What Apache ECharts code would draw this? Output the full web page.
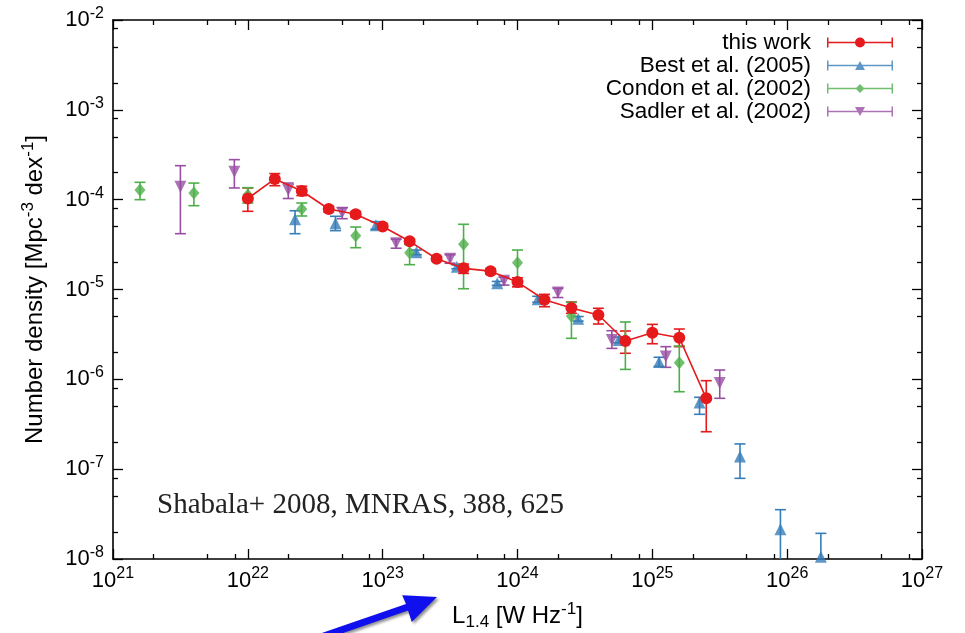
<!DOCTYPE html>
<html>
<head>
<meta charset="utf-8">
<script src="https://cdn.jsdelivr.net/npm/echarts@6/dist/echarts.min.js"></script>
<style>
html, body { margin: 0; padding: 0; background: #fff; }
#chart { width: 965px; height: 633px; }
</style>
</head>
<body>
<div id="chart"></div>
<script>
// radio luminosity function, L_1.4 in W/Hz, number density in Mpc^-3 dex^-1

// this work
const workL  = [1.0e22, 1.585e22, 2.512e22, 3.981e22, 6.310e22, 1.0e23, 1.585e23, 2.512e23, 3.981e23, 6.310e23, 1.0e24, 1.585e24, 2.512e24, 3.981e24, 6.310e24, 1.0e25, 1.585e25, 2.512e25];
const workN  = [1.03e-4, 1.70e-4, 1.25e-4, 7.87e-5, 6.87e-5, 5.03e-5, 3.44e-5, 2.20e-5, 1.72e-5, 1.60e-5, 1.21e-5, 7.69e-6, 6.22e-6, 5.20e-6, 2.67e-6, 3.30e-6, 2.90e-6, 6.15e-7];
const workHi = [1.35e-4, 1.95e-4, 1.41e-4, 8.44e-5, 7.38e-5, 5.36e-5, 3.65e-5, 2.33e-5, 1.92e-5, 1.71e-5, 1.35e-5, 8.83e-6, 7.26e-6, 6.18e-6, 3.45e-6, 4.09e-6, 3.63e-6, 9.66e-7];
const workLo = [7.42e-5, 1.43e-4, 1.11e-4, 7.29e-5, 6.41e-5, 4.71e-5, 3.21e-5, 2.08e-5, 1.51e-5, 1.49e-5, 1.07e-5, 6.43e-6, 5.43e-6, 4.13e-6, 1.95e-6, 2.49e-6, 2.31e-6, 2.61e-7];

// Best et al. (2005)
const bestL  = [2.239e22, 4.467e22, 8.913e22, 1.778e23, 3.548e23, 7.079e23, 1.413e24, 2.818e24, 5.623e24, 1.122e25, 2.239e25, 4.467e25, 8.913e25, 1.778e26];
const bestN  = [6.04e-5, 5.47e-5, 5.19e-5, 2.59e-5, 1.79e-5, 1.17e-5, 7.80e-6, 4.73e-6, 2.74e-6, 1.56e-6, 5.52e-7, 1.38e-7, 2.14e-8, 1.06e-8];
const bestHi = [7.53e-5, 6.53e-5, 5.69e-5, 2.75e-5, 1.88e-5, 1.23e-5, 8.40e-6, 5.00e-6, 2.95e-6, 1.76e-6, 6.31e-7, 1.91e-7, 3.54e-8, 1.93e-8];
const bestLo = [4.18e-5, 4.52e-5, 4.68e-5, 2.44e-5, 1.70e-5, 1.11e-5, 7.20e-6, 4.45e-6, 2.55e-6, 1.39e-6, 4.08e-7, 7.91e-8, 5.0e-9, 3.0e-9];

// Condon et al. (2002)
const condonL  = [1.585e21, 3.981e21, 1.0e22, 2.512e22, 6.310e22, 1.585e23, 3.981e23, 1.0e24, 2.512e24, 6.310e24, 1.585e25];
const condonN  = [1.28e-4, 1.19e-4, 1.13e-4, 7.87e-5, 3.96e-5, 2.57e-5, 3.18e-5, 1.99e-5, 5.03e-6, 2.77e-6, 1.53e-6];
const condonHi = [1.56e-4, 1.53e-4, 1.36e-4, 9.18e-5, 4.96e-5, 3.18e-5, 5.32e-5, 2.75e-5, 7.20e-6, 4.35e-6, 2.35e-6];
const condonLo = [1.00e-4, 8.57e-5, 9.18e-5, 6.58e-5, 2.92e-5, 1.89e-5, 1.02e-5, 1.24e-5, 2.86e-6, 1.29e-6, 7.28e-7];

// Sadler et al. (2002)
const sadlerL  = [3.162e21, 7.943e21, 1.995e22, 5.012e22, 1.259e23, 3.162e23, 7.943e23, 1.995e24, 5.012e24, 1.259e25, 3.162e25];
const sadlerN  = [1.39e-4, 2.05e-4, 1.28e-4, 7.16e-5, 3.27e-5, 2.20e-5, 1.25e-5, 9.25e-6, 2.74e-6, 1.79e-6, 9.10e-7];
const sadlerHi = [2.39e-4, 2.79e-4, 1.53e-4, 8.13e-5, 3.62e-5, 2.44e-5, 1.37e-5, 1.03e-5, 3.48e-6, 2.31e-6, 1.27e-6];
const sadlerLo = [4.18e-5, 1.35e-4, 1.03e-4, 6.14e-5, 2.88e-5, 1.96e-5, 1.12e-5, 8.14e-6, 2.21e-6, 1.36e-6, 6.15e-7];

// axis ticks (last x tick a hair under 1e27, otherwise the log scale drops it)
const majorX = [1e21, 1e22, 1e23, 1e24, 1e25, 1e26, 9.99999e26];
const minorX = [2e21, 5e21, 8e21, 2e22, 5e22, 8e22, 2e23, 5e23, 8e23, 2e24, 5e24, 8e24, 2e25, 5e25, 8e25, 2e26, 5e26, 8e26];
const majorY = [1e-8, 1e-7, 1e-6, 1e-5, 1e-4, 1e-3, 1e-2];
const minorY = [2e-8, 5e-8, 8e-8, 2e-7, 5e-7, 8e-7, 2e-6, 5e-6, 8e-6, 2e-5, 5e-5, 8e-5, 2e-4, 5e-4, 8e-4, 2e-3, 5e-3, 8e-3];

const RED = '#e41a1c', BLUE = '#377eb8', GREEN = '#4daf4a', PURPLE = '#984ea3';
const FONT = '"Liberation Sans", Arial, sans-serif';

const pick = (xs, ys) => xs.map((x, i) => [x, ys[i]]);

function errBars(name, color, xs, lo, hi) {
    return {
        type: 'custom',
        name: name + ' err',
        xAxisIndex: 0, yAxisIndex: 0,
        clip: true,
        silent: true,
        data: xs.map((x, i) => [x, lo[i], hi[i]]),
        encode: { x: 0, y: [1, 2] },
        renderItem: function (params, api) {
            const a = api.coord([api.value(0), api.value(1)]);
            const b = api.coord([api.value(0), api.value(2)]);
            const w = 5.5;
            const st = { stroke: color, lineWidth: 1.6, fill: null };
            return {
                type: 'group',
                children: [
                    { type: 'line', shape: { x1: a[0], y1: a[1], x2: b[0], y2: b[1] }, style: st },
                    { type: 'line', shape: { x1: a[0] - w, y1: a[1], x2: a[0] + w, y2: a[1] }, style: st },
                    { type: 'line', shape: { x1: b[0] - w, y1: b[1], x2: b[0] + w, y2: b[1] }, style: st }
                ]
            };
        }
    };
}

function powLabel(v) {
    const e = Math.round(Math.log10(v));
    return '{b|10}{s|' + e + '}';
}
const labelRich = {
    b: { fontSize: 22, fontFamily: FONT, color: '#000' },
    s: { fontSize: 16, fontFamily: FONT, color: '#000', padding: [0, 0, 13, 0] }
};

// legend icons: errorbar line with caps and the marker in the middle
const capsPath = 'M0,0H1.5V10H0Z M64.5,0H66V10H64.5Z ';
const iconCircle = 'path://' + capsPath + 'M1.5,4.25H28.5V5.75H1.5Z M37.5,4.25H64.5V5.75H37.5Z M28,5A5,5 0 1,1 38,5A5,5 0 1,1 28,5Z';
const iconUp = 'path://' + capsPath + 'M1.5,4.25H31V5.75H1.5Z M35,4.25H64.5V5.75H35Z M28,9.5L33,0.5L38,9.5Z';
const iconDiamond = 'path://' + capsPath + 'M1.5,4.25H29.5V5.75H1.5Z M36.5,4.25H64.5V5.75H36.5Z M33,0.5L37.5,5L33,9.5L28.5,5Z';
const iconDown = 'path://' + capsPath + 'M1.5,4.25H31V5.75H1.5Z M35,4.25H64.5V5.75H35Z M28,0.5L38,0.5L33,9.5Z';

function xAxisDef(grid, pos, ticks, len, main) {
    return {
        type: 'log', logBase: 10, gridIndex: grid, position: pos,
        min: 1e21, max: 1e27,
        axisLine: { show: main, onZero: false, lineStyle: { color: '#000', width: 1.6 } },
        axisTick: { show: true, inside: true, length: len, customValues: ticks, lineStyle: { color: '#000', width: 1.3 } },
        axisLabel: { show: false },
        splitLine: { show: false }
    };
}
function yAxisDef(grid, pos, ticks, len, main) {
    return {
        type: 'log', logBase: 10, gridIndex: grid, position: pos,
        min: 1e-8, max: 1e-2,
        axisLine: { show: main, onZero: false, lineStyle: { color: '#000', width: 1.6 } },
        axisTick: { show: true, inside: true, length: len, customValues: ticks, lineStyle: { color: '#000', width: 1.3 } },
        axisLabel: { show: false },
        splitLine: { show: false }
    };
}

const xBottom = xAxisDef(0, 'bottom', majorX, 10, true);
xBottom.axisLabel = { show: true, customValues: majorX, formatter: powLabel, rich: labelRich, margin: 7, showMinLabel: true, showMaxLabel: true };
xBottom.name = '{n|L}{u|1.4}{n| [W Hz}{s|-1}{n|]}';
xBottom.nameLocation = 'middle';
xBottom.nameGap = 42;
xBottom.nameTextStyle = {
    rich: {
        n: { fontSize: 24, fontFamily: FONT, color: '#000' },
        u: { fontSize: 17, fontFamily: FONT, color: '#000', padding: [12, 0, 0, 0] },
        s: { fontSize: 17, fontFamily: FONT, color: '#000', padding: [0, 0, 14, 0] }
    }
};

const yLeft = yAxisDef(0, 'left', majorY, 10, true);
yLeft.axisLabel = { show: true, customValues: majorY, formatter: powLabel, rich: labelRich, margin: 9, showMinLabel: true, showMaxLabel: true };
yLeft.name = '{n|Number density [Mpc}{s|-3}{n| dex}{s|-1}{n|]}';
yLeft.nameLocation = 'middle';
yLeft.nameGap = 62;
yLeft.nameTextStyle = {
    rich: {
        n: { fontSize: 24, fontFamily: FONT, color: '#000' },
        s: { fontSize: 17, fontFamily: FONT, color: '#000', padding: [0, 0, 14, 0] }
    }
};

const gridBox = { left: 113, right: 43, top: 20, bottom: 74, outerBoundsMode: 'none', containLabel: false };

const option = {
    animation: false,
    backgroundColor: '#fff',
    grid: [Object.assign({}, gridBox), Object.assign({}, gridBox)],
    xAxis: [
        xBottom,
        xAxisDef(0, 'top', majorX, 10, true),
        xAxisDef(1, 'bottom', minorX, 5, false),
        xAxisDef(1, 'top', minorX, 5, false)
    ],
    yAxis: [
        yLeft,
        yAxisDef(0, 'right', majorY, 10, true),
        yAxisDef(1, 'left', minorY, 5, false),
        yAxisDef(1, 'right', minorY, 5, false)
    ],
    legend: {
        orient: 'vertical',
        align: 'right',
        right: 67,
        top: 26,
        itemWidth: 66,
        itemHeight: 10,
        itemGap: 0,
        selectedMode: false,
        textStyle: { fontSize: 22.5, fontFamily: FONT, color: '#000', lineHeight: 21, padding: [0, 11, 0, 0] },
        data: [
            { name: 'this work', icon: iconCircle },
            { name: 'Best et al. (2005)', icon: iconUp },
            { name: 'Condon et al. (2002)', icon: iconDiamond },
            { name: 'Sadler et al. (2002)', icon: iconDown }
        ]
    },
    graphic: [
        {
            type: 'text', left: 157, top: 491,
            style: { text: 'Shabala+ 2008, MNRAS, 388, 625', fontSize: 29, fontFamily: '"Liberation Serif", "DejaVu Serif", serif', fill: '#222' }
        },
        {
            // blue arrow below the axis
            type: 'polygon', z: 100,
            shape: { points: [[323, 640], [408, 610.5], [411.8, 621.9], [437, 597], [402.2, 595.2], [406, 603.9], [320.7, 633.4]] },
            style: { fill: '#1010ee', shadowBlur: 3, shadowColor: 'rgba(0,0,0,0.45)', shadowOffsetX: 2, shadowOffsetY: 2 }
        }
    ],
    series: [
        errBars('this work', RED, workL, workLo, workHi),
        {
            type: 'line', name: 'this work', xAxisIndex: 0, yAxisIndex: 0,
            data: pick(workL, workN),
            symbol: 'circle', symbolSize: 12, showSymbol: true,
            lineStyle: { color: RED, width: 1.6 },
            itemStyle: { color: RED },
            emphasis: { disabled: true }
        },
        errBars('Best et al. (2005)', BLUE, bestL, bestLo, bestHi),
        {
            type: 'scatter', name: 'Best et al. (2005)', xAxisIndex: 0, yAxisIndex: 0,
            data: pick(bestL, bestN),
            symbol: 'triangle', symbolSize: 12,
            itemStyle: { color: BLUE },
            emphasis: { disabled: true }
        },
        errBars('Condon et al. (2002)', GREEN, condonL, condonLo, condonHi),
        {
            type: 'scatter', name: 'Condon et al. (2002)', xAxisIndex: 0, yAxisIndex: 0,
            data: pick(condonL, condonN),
            symbol: 'diamond', symbolSize: [11, 13],
            itemStyle: { color: GREEN },
            emphasis: { disabled: true }
        },
        errBars('Sadler et al. (2002)', PURPLE, sadlerL, sadlerLo, sadlerHi),
        {
            type: 'scatter', name: 'Sadler et al. (2002)', xAxisIndex: 0, yAxisIndex: 0,
            data: pick(sadlerL, sadlerN),
            symbol: 'triangle', symbolRotate: 180, symbolSize: 12,
            itemStyle: { color: PURPLE },
            emphasis: { disabled: true }
        }
    ]
};

const myChart = echarts.init(document.getElementById('chart'));
myChart.setOption(option);
</script>
</body>
</html>
